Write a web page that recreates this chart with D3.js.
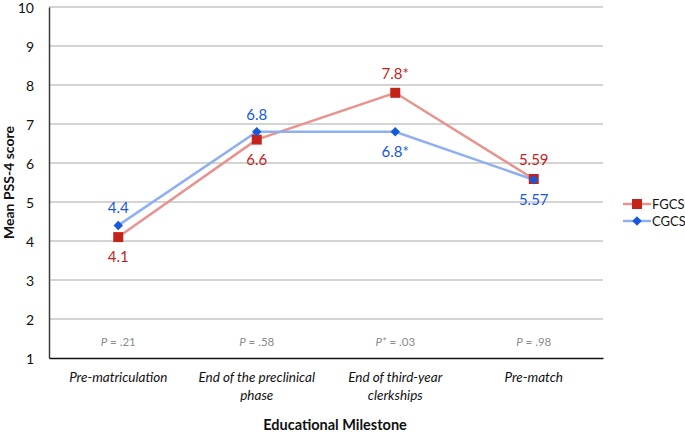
<!DOCTYPE html>
<html><head><meta charset="utf-8">
<script src="https://cdn.jsdelivr.net/npm/d3@7"></script>
<style>
html,body{margin:0;padding:0;background:#fff;}
text{font-family:Lato,"Open Sans",sans-serif;}
</style></head>
<body>
<svg id="chart" width="685" height="432"></svg>
<script>
const categories = [["Pre-matriculation"], ["End of the preclinical", "phase"], ["End of third-year", "clerkships"], ["Pre-match"]];
const fgcs = [4.1, 6.6, 7.8, 5.59];
const cgcs = [4.4, 6.8, 6.8, 5.57];
const fgcsLabels = ["4.1", "6.6", "7.8*", "5.59"];
const cgcsLabels = ["4.4", "6.8", "6.8*", "5.57"];
const fgcsLabelPos = ["below", "below", "above", "above"];
const cgcsLabelPos = ["above", "above", "below", "below"];
const pPrefix = ["P", "P", "P*", "P"];
const pValues = [".21", ".58", ".03", ".98"];
const yTicks = [1,2,3,4,5,6,7,8,9,10];

const svg = d3.select("#chart");
const mLeft = 49, mRight = 603, mTop = 7, mBottom = 358;
const x = d3.scaleBand().domain(d3.range(categories.length)).range([mLeft, mRight]);
const y = d3.scaleLinear().domain([1, 10]).range([mBottom, mTop]);
const cx = i => x(i) + x.bandwidth() / 2;

// gridlines
svg.append("g").selectAll("line").data(yTicks.filter(d => d > 1)).join("line")
  .attr("x1", mLeft).attr("x2", mRight).attr("y1", d => y(d)).attr("y2", d => y(d))
  .attr("stroke", "#c6c6c6").attr("stroke-width", 1.5);

// y axis
const yAxis = svg.append("g").attr("transform", `translate(${mLeft},0)`)
  .call(d3.axisLeft(y).tickValues(yTicks).tickSize(0).tickPadding(15));
yAxis.select(".domain").attr("stroke", "#3a3a3a").attr("stroke-width", 1.5);
yAxis.selectAll("text").attr("font-size", 14).attr("fill", "#111").attr("font-family", "Lato")
  .attr("dy", "0.42em");

// x axis line
const xAxis = svg.append("g").attr("transform", `translate(0,${mBottom})`)
  .call(d3.axisBottom(x).tickSize(0).tickFormat(""));
xAxis.select(".domain").attr("stroke", "#111").attr("stroke-width", 1.5);

// category labels
categories.forEach((lines, i) => {
  const t = svg.append("text").attr("x", cx(i)).attr("y", 382)
    .attr("text-anchor", "middle").attr("font-size", 13.5).attr("font-style", "italic").attr("fill", "#111");
  lines.forEach((l, j) => t.append("tspan").attr("x", cx(i)).attr("dy", j === 0 ? 0 : 18).text(l));
});

// p values
pValues.forEach((p, i) => {
  const t = svg.append("text").attr("x", cx(i)).attr("y", 346)
    .attr("text-anchor", "middle").attr("font-size", 11.5).attr("fill", "#8a8a8a");
  t.append("tspan").attr("font-style", "italic").text(pPrefix[i]);
  t.append("tspan").text(" = " + p);
});

// lines
const line = d3.line().x((d, i) => cx(i)).y(d => y(d));
svg.append("path").datum(fgcs).attr("d", line).attr("fill", "none")
  .attr("stroke", "#e8948e").attr("stroke-width", 2.5);
svg.append("path").datum(cgcs).attr("d", line).attr("fill", "none")
  .attr("stroke", "#8fb0ef").attr("stroke-width", 2.5);

// markers
const sq = d3.symbol().type(d3.symbolSquare).size(100);
const dm = d3.symbol().type(d3.symbolSquare).size(45);
svg.append("g").selectAll("path").data(fgcs).join("path")
  .attr("d", sq).attr("transform", (d, i) => `translate(${cx(i)},${y(d)})`)
  .attr("fill", "#c4231c");
svg.append("g").selectAll("path").data(cgcs).join("path")
  .attr("d", dm).attr("transform", (d, i) => `translate(${cx(i)},${y(d)}) rotate(45)`)
  .attr("fill", "#1659db");

// data labels
svg.append("g").selectAll("text").data(fgcs).join("text")
  .attr("x", (d, i) => cx(i))
  .attr("y", (d, i) => y(d) + (fgcsLabelPos[i] === "above" ? -14 : 25))
  .attr("text-anchor", "middle").attr("font-size", 15).attr("fill", "#c4231c")
  .text((d, i) => fgcsLabels[i]);
svg.append("g").selectAll("text").data(cgcs).join("text")
  .attr("x", (d, i) => cx(i))
  .attr("y", (d, i) => y(d) + (cgcsLabelPos[i] === "above" ? -12 : 25))
  .attr("text-anchor", "middle").attr("font-size", 15).attr("fill", "#1659db")
  .text((d, i) => cgcsLabels[i]);

// axis titles
svg.append("text").attr("x", 335).attr("y", 430).attr("text-anchor", "middle")
  .attr("font-size", 14.5).attr("font-weight", "bold").attr("fill", "#111").text("Educational Milestone");
svg.append("text").attr("transform", `translate(14,${(mTop + mBottom) / 2}) rotate(-90)`)
  .attr("text-anchor", "middle").attr("font-size", 14).attr("font-weight", "bold").attr("fill", "#111")
  .text("Mean PSS-4 score");

// legend
const legend = [{name: "FGCS", color: "#e8948e", mcolor: "#c4231c", sym: sq, rot: 0, yy: 204},
                {name: "CGCS", color: "#8fb0ef", mcolor: "#1659db", sym: dm, rot: 45, yy: 221}];
legend.forEach(l => {
  svg.append("line").attr("x1", 623).attr("x2", 651).attr("y1", l.yy).attr("y2", l.yy)
    .attr("stroke", l.color).attr("stroke-width", 2.5);
  svg.append("path").attr("d", l.sym).attr("transform", `translate(637,${l.yy}) rotate(${l.rot})`).attr("fill", l.mcolor);
  svg.append("text").attr("x", 652).attr("y", l.yy + 5).attr("font-size", 13).attr("fill", "#111").text(l.name);
});
</script>
</body></html>
